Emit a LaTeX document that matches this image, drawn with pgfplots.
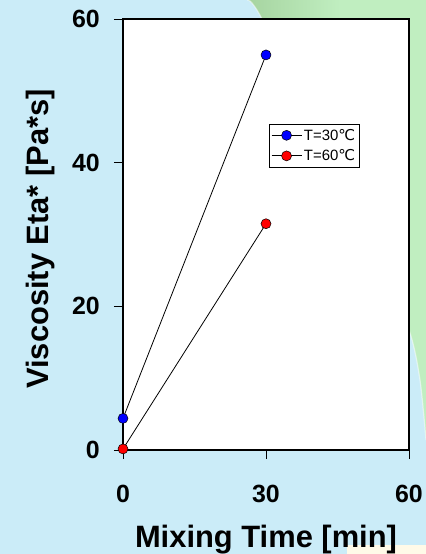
\documentclass[border=0pt]{standalone}
\usepackage{fontspec}
\setmainfont{Liberation Sans}
\newfontfamily\djv{DejaVu Sans}
\usepackage{pgfplots}
\pgfplotsset{compat=1.18}
\definecolor{bgblue}{RGB}{203,236,248}
\definecolor{gdark}{RGB}{166,212,160}
\definecolor{glight}{RGB}{192,238,192}
\definecolor{pyellow}{RGB}{255,250,232}
\begin{document}
\begin{tikzpicture}
\useasboundingbox (0bp,0bp) rectangle (426bp,554bp);
\fill[bgblue] (0bp,0bp) rectangle (426bp,554bp);
\begin{scope}
\clip plot[smooth] coordinates {(247bp,554bp)(262bp,535bp)(330bp,394bp)(385bp,284bp)(410bp,221bp)(420bp,174bp)(426bp,114bp)} -- (426bp,554bp) -- cycle;
\shade[left color=gdark,right color=glight] (247bp,0bp) rectangle (340bp,554bp);
\fill[glight] (339.5bp,0bp) rectangle (426bp,554bp);
\end{scope}
\draw[white, opacity=0.5, line width=1.2bp] plot[smooth] coordinates {(247bp,554bp)(262bp,535bp)(330bp,394bp)(385bp,284bp)(410bp,221bp)(420bp,174bp)(426bp,114bp)};
\fill[pyellow] (347bp,0bp) rectangle (426bp,9bp);
\begin{axis}[
  at={(123bp,104bp)}, anchor=south west,
  scale only axis, width=286bp, height=431bp,
  xmin=0, xmax=60, ymin=0, ymax=60,
  xtick={0,30,60}, ytick={0,20,40,60},
  xtick pos=left, ytick pos=left,
  tick align=outside, major tick length=9bp,
  every tick/.style={black, line width=0.8bp},
  axis line style={line width=2bp},
  axis background/.style={fill=white},
  /pgf/number format/assume math mode=true,
  tick label style={font=\bfseries\fontsize{25}{25}\selectfont},
  label style={font=\bfseries\fontsize{31}{31}\selectfont},
  xticklabel style={anchor=base, yshift=-43bp},
  yticklabel style={anchor=east, inner sep=0pt, xshift=-14bp},
  xlabel={Mixing Time [min]}, ylabel={Viscosity Eta* [Pa*s]},
  xlabel style={at={(axis description cs:0.5,-0.227)}, anchor=base},
  ylabel style={at={(axis description cs:-0.262,0.49)}, anchor=base},
  clip=false,
  legend cell align=left,
  legend style={at={(rel axis cs:0.51,0.757)}, anchor=north west, draw=black, line width=0.6bp,
    font=\fontsize{15}{15}\selectfont, inner xsep=2bp, inner ysep=3bp, row sep=4bp},
  legend image code/.code={\draw[mark repeat=2,mark phase=2,#1] plot coordinates {(0bp,0bp)(15bp,0bp)(30bp,0bp)};},
]
\addplot[black, line width=0.8bp, mark=*, mark size=5bp, mark options={fill=blue, draw=black, line width=0.5bp}] coordinates {(0,4.4) (30,55)};
\addlegendentry{T=30{\djv ℃}}
\addplot[black, line width=0.8bp, mark=*, mark size=5bp, mark options={fill=red, draw=black, line width=0.5bp}] coordinates {(0,0.15) (30,31.5)};
\addlegendentry{T=60{\djv ℃}}
\end{axis}
\end{tikzpicture}
\end{document}
